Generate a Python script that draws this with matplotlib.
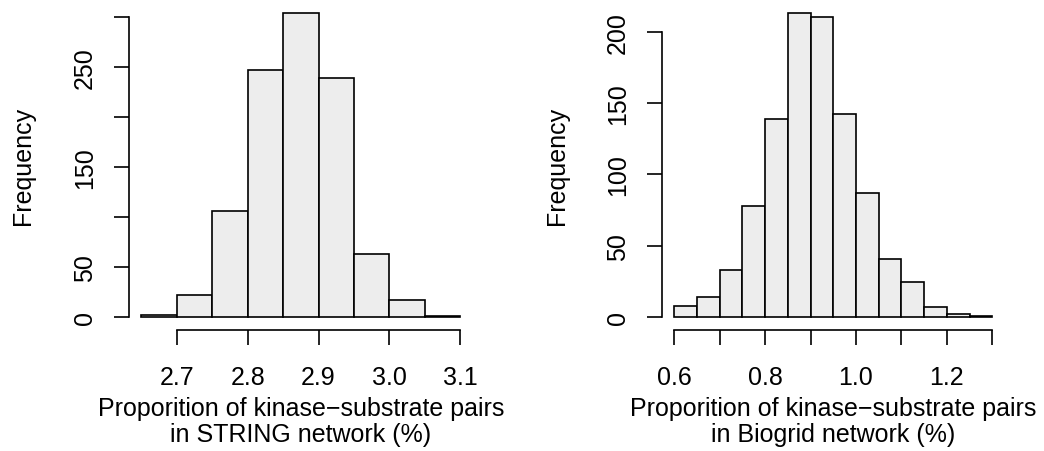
import numpy as np
import matplotlib
matplotlib.use("Agg")
import matplotlib.pyplot as plt

plt.rcParams['font.family'] = ['Liberation Sans', 'DejaVu Sans']

# STRING network permutation histogram
string_edges = [2.65, 2.70, 2.75, 2.80, 2.85, 2.90, 2.95, 3.00, 3.05, 3.10]
string_counts = [2, 22, 106, 247, 304, 239, 63, 17, 1]
string_xticks = [2.7, 2.8, 2.9, 3.0, 3.1]
string_xticklabels = ["2.7", "2.8", "2.9", "3.0", "3.1"]
string_yticks = [0, 50, 100, 150, 200, 250, 300]
string_yticklabels = ["0", "50", "", "150", "", "250", ""]

# Biogrid network permutation histogram
biogrid_edges = [0.60, 0.65, 0.70, 0.75, 0.80, 0.85, 0.90, 0.95,
                 1.00, 1.05, 1.10, 1.15, 1.20, 1.25, 1.30]
biogrid_counts = [8, 14, 33, 78, 139, 213, 210, 142, 87, 41, 25, 7, 2, 1]
biogrid_xticks = [0.6, 0.7, 0.8, 0.9, 1.0, 1.1, 1.2, 1.3]
biogrid_xticklabels = ["0.6", "", "0.8", "", "1.0", "", "1.2", ""]
biogrid_yticks = [0, 50, 100, 150, 200]
biogrid_yticklabels = ["0", "50", "100", "150", "200"]

xlabels = ["Proporition of kinase\u2212substrate pairs\nin STRING network (%)",
           "Proporition of kinase\u2212substrate pairs\nin Biogrid network (%)"]

FS = 18
LW = 1.2
FILL = "#EDEDED"

fig = plt.figure(figsize=(10.44, 4.52), dpi=100)
ax1 = fig.add_axes([0.1231, 0.2688, 0.3301, 0.7265])
ax2 = fig.add_axes([0.6337, 0.2688, 0.3289, 0.7270])


def r_hist(ax, edges, counts, xticks, xticklabels, yticks, yticklabels, xlabel, ylab_x):
    edges = np.asarray(edges)
    counts = np.asarray(counts)
    widths = np.diff(edges)
    ax.bar(edges[:-1], counts, width=widths, align="edge",
           facecolor=FILL, edgecolor="black", linewidth=LW)
    # R-style 4% axis padding
    xr = edges[-1] - edges[0]
    ax.set_xlim(edges[0] - 0.04 * xr, edges[-1] + 0.04 * xr)
    ymax = counts.max()
    ax.set_ylim(-0.04 * ymax, 1.04 * ymax)

    for s in ("top", "right"):
        ax.spines[s].set_visible(False)
    for s in ("left", "bottom"):
        ax.spines[s].set_linewidth(LW)
    ax.spines["left"].set_bounds(yticks[0], yticks[-1])
    ax.spines["bottom"].set_bounds(xticks[0], xticks[-1])

    ax.set_xticks(xticks)
    ax.set_xticklabels(xticklabels, fontsize=FS, va="baseline")
    ax.set_yticks(yticks)
    ax.set_yticklabels(yticklabels, fontsize=FS, rotation=90,
                       ha="center", va="center")
    ax.tick_params(axis="x", direction="out", length=11.0, width=LW, pad=28.0)
    ax.tick_params(axis="y", direction="out", length=10.8, width=LW, pad=20.5)

    ax.set_xlabel(xlabel, fontsize=FS, linespacing=1.08, labelpad=5.5)
    ax.set_ylabel("Frequency", fontsize=FS, va="center")
    ax.yaxis.set_label_coords(ylab_x, 0.5)
    ax.patch.set_visible(False)


r_hist(ax1, string_edges, string_counts, string_xticks, string_xticklabels,
       string_yticks, string_yticklabels, xlabels[0], -0.307)
r_hist(ax2, biogrid_edges, biogrid_counts, biogrid_xticks, biogrid_xticklabels,
       biogrid_yticks, biogrid_yticklabels, xlabels[1], -0.3055)

fig.savefig("out.png", dpi=100)
